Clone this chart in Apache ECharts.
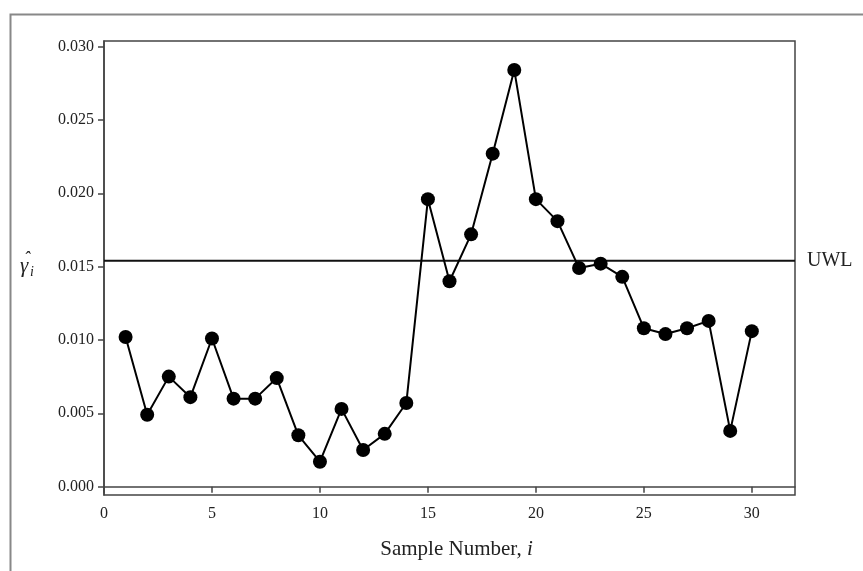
<!DOCTYPE html>
<html>
<head>
<meta charset="utf-8">
<script src="https://cdn.jsdelivr.net/npm/echarts@6/dist/echarts.min.js"></script>
<style>
  html, body { margin: 0; padding: 0; background: #fff; }
  #chart { width: 863px; height: 571px; }
</style>
</head>
<body>
<div id="chart"></div>
<script>
// sample numbers and the plotted gamma-hat values
var sampleNumbers = [1, 2, 3, 4, 5, 6, 7, 8, 9, 10, 11, 12, 13, 14, 15,
                     16, 17, 18, 19, 20, 21, 22, 23, 24, 25, 26, 27, 28, 29, 30];
var gammaHat = [0.0102, 0.0049, 0.0075, 0.0061, 0.0101, 0.0060, 0.0060, 0.0074, 0.0035, 0.0017,
                0.0053, 0.0025, 0.0036, 0.0057, 0.0196, 0.0140, 0.0172, 0.0227, 0.0284, 0.0196,
                0.0181, 0.0149, 0.0152, 0.0143, 0.0108, 0.0104, 0.0108, 0.0113, 0.0038, 0.0106];
var uwl = 0.0154;
var xRange = [0, 32];
var xTicks = [0, 5, 10, 15, 20, 25, 30];
var yTicks = [0.000, 0.005, 0.010, 0.015, 0.020, 0.025, 0.030];

var serif = '"Liberation Serif", "DejaVu Serif", serif';
var chart = echarts.init(document.getElementById('chart'));

var points = sampleNumbers.map(function (n, i) {
    return [n, gammaHat[i]];
});
var uwlLine = xRange.map(function (x) { return [x, uwl]; });

var option = {
    animation: false,
    backgroundColor: '#fff',
    grid: {
        left: 104,
        right: 68,
        top: 41,
        bottom: 76,
        show: true,
        borderColor: '#444',
        borderWidth: 1.5,
        backgroundColor: 'transparent'
    },
    xAxis: {
        type: 'value',
        min: xRange[0],
        max: xRange[1],
        name: 'Sample Number, {it|i}',
        nameLocation: 'middle',
        nameGap: 44,
        nameTextStyle: {
            fontFamily: serif,
            fontSize: 21,
            color: '#222',
            padding: [0, 0, 0, 14],
            rich: {
                it: { fontFamily: serif, fontSize: 21, fontStyle: 'italic', color: '#222' }
            }
        },
        axisLine: { show: true, lineStyle: { color: '#444', width: 1.5 } },
        axisTick: { show: true, length: 6, customValues: xTicks, lineStyle: { color: '#444', width: 1.5 } },
        axisLabel: {
            customValues: xTicks,
            margin: 11,
            fontFamily: serif,
            fontSize: 16,
            color: '#222'
        },
        splitLine: { show: false }
    },
    yAxis: {
        type: 'value',
        min: -0.00057,
        max: 0.03038,
        axisLine: { show: true, lineStyle: { color: '#444', width: 1.5 } },
        axisTick: { show: true, length: 6, customValues: yTicks, lineStyle: { color: '#444', width: 1.5 } },
        axisLabel: {
            customValues: yTicks,
            margin: 10,
            fontFamily: serif,
            fontSize: 16,
            color: '#222',
            formatter: function (v) { return v.toFixed(3); }
        },
        splitLine: { show: false }
    },
    graphic: [
        {
            type: 'rect',
            left: 8,
            top: 12,
            shape: { width: 1000, height: 1000 },
            style: { fill: 'none', stroke: '#888', lineWidth: 2 },
            silent: true
        },
        // y axis name: gamma hat, subscript i
        {
            type: 'group',
            left: 20,
            top: 250,
            children: [
                { type: 'text', x: 0, y: 6, style: { text: 'γ', font: 'italic 21px ' + serif, fill: '#222' } },
                { type: 'text', x: 4, y: 0, style: { text: 'ˆ', font: 'italic 18px ' + serif, fill: '#222' } },
                { type: 'text', x: 10, y: 15, style: { text: 'i', font: 'italic 14px ' + serif, fill: '#222' } }
            ]
        }
    ],
    series: [
        {
            type: 'line',
            data: uwlLine,
            symbol: 'none',
            lineStyle: { color: '#111', width: 2 },
            z: 2,
            endLabel: {
                show: true,
                formatter: 'UWL',
                distance: 12,
                fontFamily: serif,
                fontSize: 20,
                color: '#222'
            }
        },
        {
            type: 'line',
            data: points,
            symbol: 'circle',
            symbolSize: 14,
            lineStyle: { color: '#000', width: 2 },
            itemStyle: { color: '#000' },
            z: 3
        }
    ]
};

chart.setOption(option);
</script>
</body>
</html>
